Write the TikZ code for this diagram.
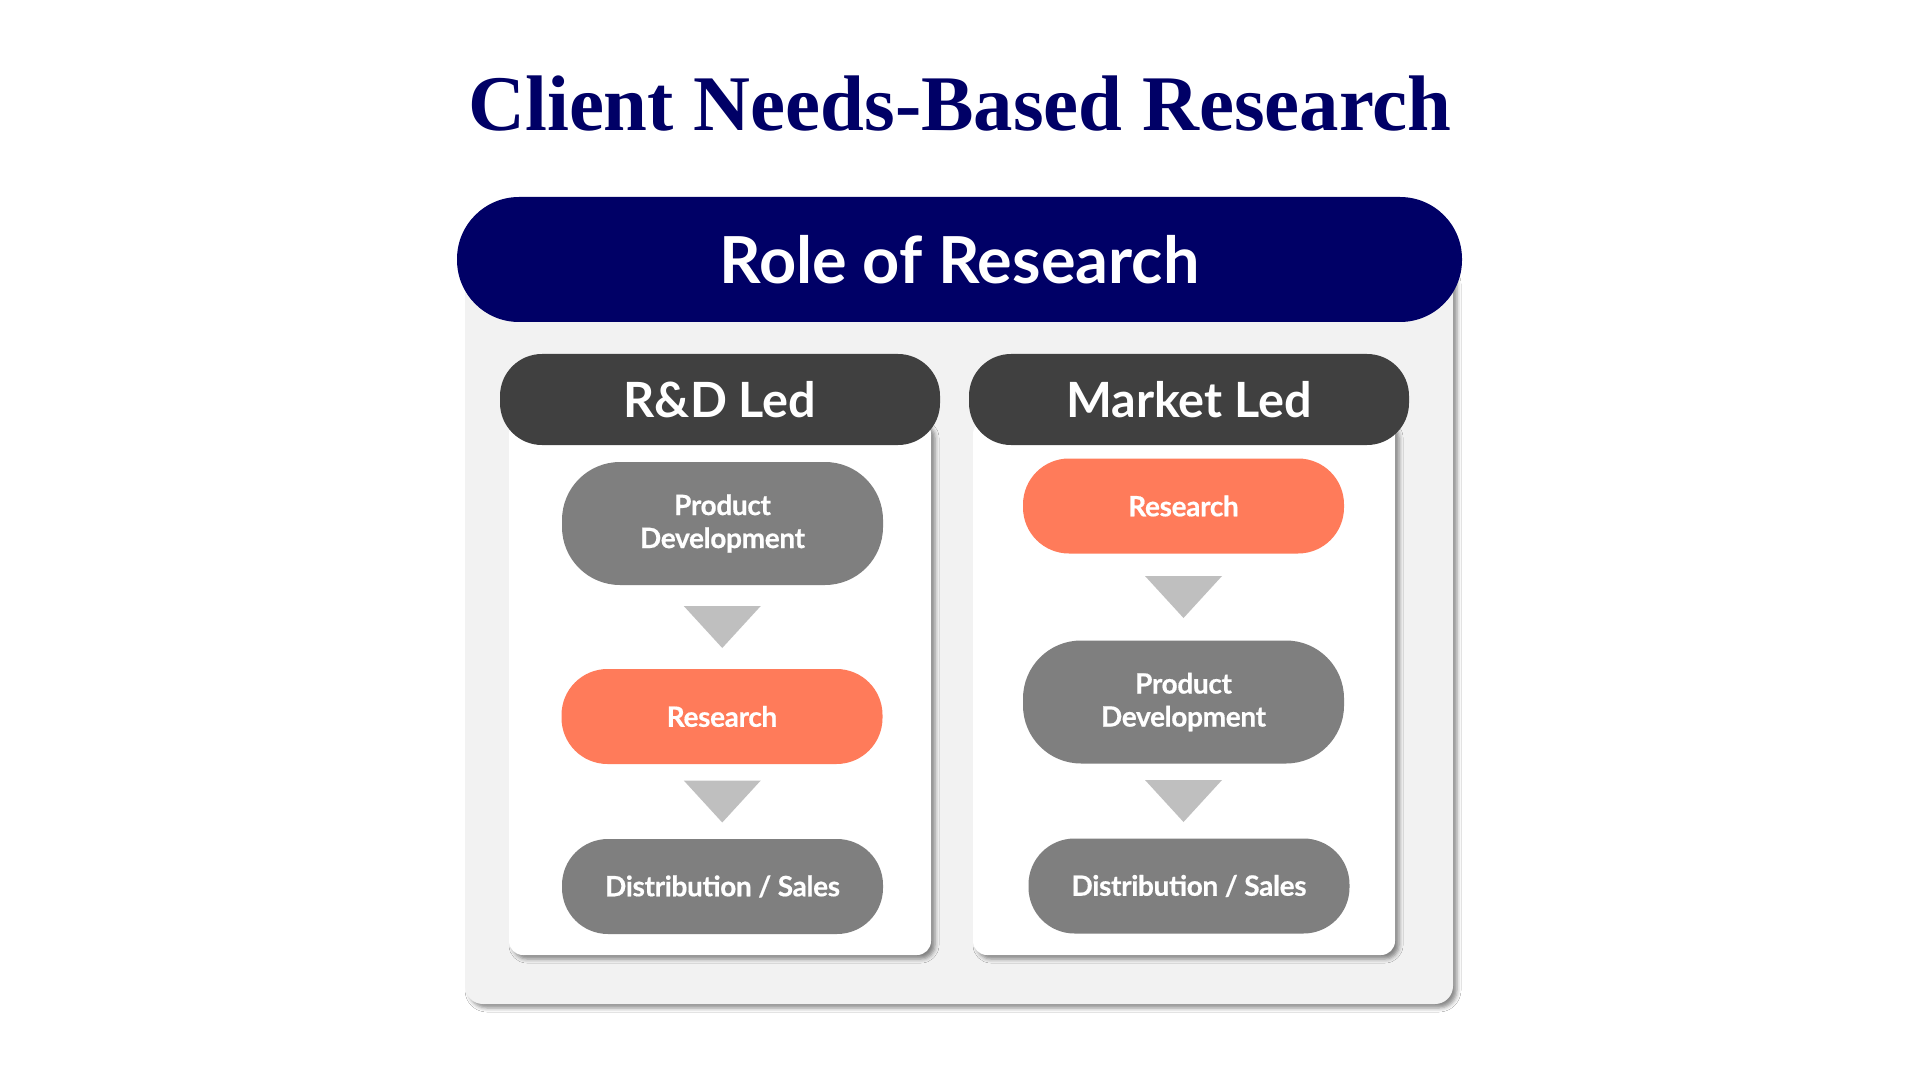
\documentclass[tikz,border=0pt]{standalone}
\usepackage{fontspec}
\setmainfont{Liberation Serif}
\newfontfamily\lato{Lato}
\newfontfamily\latoheavy{Lato}[BoldFeatures={FakeBold=0.5}, LetterSpace=-1.2]
\usetikzlibrary{calc,shadows.blur}
\definecolor{navy}{HTML}{000066}
\definecolor{darkhead}{HTML}{404040}
\definecolor{pillgray}{HTML}{7F7F7F}
\definecolor{coral}{HTML}{FF7B5A}
\definecolor{arrgray}{HTML}{BFBFBF}
\definecolor{panel}{HTML}{F2F2F2}
\tikzset{
  pillbase/.style={rectangle, text=white, align=center, inner sep=0pt,
    font=\latoheavy\bfseries\fontsize{14}{16.5}\selectfont, minimum width=160.5pt},
  graypill/.style={pillbase, fill=pillgray},
  coralpill/.style={pillbase, fill=coral},
  tall/.style={minimum height=61.5pt, rounded corners=29pt},
  short/.style={minimum height=47.5pt, rounded corners=23pt},
  colhead/.style={rectangle, fill=darkhead, text=white, minimum width=220pt,
    minimum height=45.5pt, rounded corners=21pt, inner sep=0pt,
    font=\lato\bfseries\fontsize{24.3}{28}\selectfont},
  softshadow/.style={blur shadow={shadow xshift=2pt, shadow yshift=-2pt,
    shadow blur radius=2pt, shadow opacity=45}},
  cardbox/.style={fill=white, rounded corners=7pt, softshadow},
  arrowtri/.style={fill=arrgray},
}
\begin{document}
\begin{tikzpicture}[x=0.5pt,y=-0.5pt]
\useasboundingbox[fill=white] (0,0) rectangle (1920,1080);
% title
\node[anchor=base, text=navy, font=\bfseries\fontsize{39.4}{44}\selectfont, inner sep=0pt]
  (title) at (960,131) {Client Needs-Based Research};
% outer panel
\path[fill=panel, rounded corners=9pt, softshadow]
  (465,262) rectangle (1453,1004);
% cards
\path[cardbox] (509,420) rectangle (931,955);
\path[cardbox] (973,420) rectangle (1395,955);
% navy header
\node[rectangle, fill=navy, text=white, minimum width=502.5pt, minimum height=62.5pt,
  rounded corners=31pt, inner sep=0pt, font=\lato\bfseries\fontsize{32.4}{36}\selectfont]
  (role) at (959.5,259.5) {Role of Research};
% column headers
\node[colhead] (rd) at (720,399.5) {R\&D Led};
\node[colhead] (mk) at (1189,399.5) {Market Led};
% left column
\node[graypill, tall] (l1) at (722.5,523.5) {Product\\Development};
\node[coralpill, short] (l2) at (722,716.5) {Research};
\node[graypill, short] (l3) at (722.5,886.5) {Distribution / Sales};
% right column
\node[coralpill, short] (r1) at (1183.5,506) {Research};
\node[graypill, tall] (r2) at (1183.5,702) {Product\\Development};
\node[graypill, short] (r3) at (1189,886) {Distribution / Sales};
% arrows
\fill[arrowtri] ($(l1.south)!0.5!(l2.north)+(-38.5,-21)$) -- ++(77,0) -- ++(-38.5,42) -- cycle;
\fill[arrowtri] ($(l2.south)!0.5!(l3.north)+(-38.5,-21)$) -- ++(77,0) -- ++(-38.5,42) -- cycle;
\fill[arrowtri] ($(r1.south)!0.5!(r2.north)+(-38.5,-21)$) -- ++(77,0) -- ++(-38.5,42) -- cycle;
\fill[arrowtri] ($(r2.south)!0.5!(r3.north)+(-38.5-2.75,-21)$) -- ++(77,0) -- ++(-38.5,42) -- cycle;
\end{tikzpicture}
\end{document}
